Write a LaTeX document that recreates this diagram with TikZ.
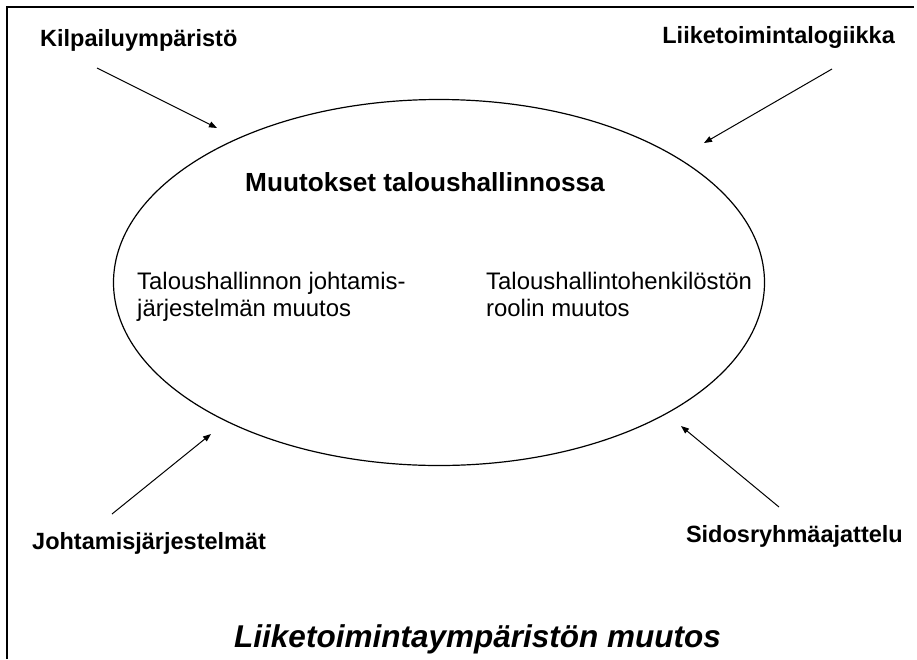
\documentclass[tikz,border=0pt]{standalone}
\usepackage{fontspec}
\setmainfont{Liberation Sans}
\usetikzlibrary{arrows.meta}
\begin{document}
\begin{tikzpicture}[x=1pt,y=-1pt,
  outer/.style={inner sep=0pt, font=\fontsize{23.5pt}{28pt}\selectfont\bfseries},
  inner/.style={inner sep=0pt, align=left, font=\fontsize{23.9pt}{27.5pt}\selectfont},
  conn/.style={line width=1pt, -{Triangle[length=8pt,width=6pt]}}]
\useasboundingbox (0,0) rectangle (917,659);
\draw[line width=1.5pt] (7,659) -- (7,7) -- (914,7);
\draw[line width=1.2pt] (439,282.5) ellipse [x radius=325.5pt, y radius=183pt];
% labels
\node[outer, anchor=base west] (kil) at (40,46) {Kilpailuympäristö};
\node[outer, anchor=base east] (lii) at (895,43) {Liiketoimintalogiikka};
\node[outer, anchor=base west] (joh) at (32,549) {Johtamisjärjestelmät};
\node[outer, anchor=base east] (sid) at (903,542) {Sidosryhmäajattelu};
\node[inner sep=0pt, anchor=base, font=\fontsize{31.5pt}{36pt}\selectfont\bfseries\itshape] (title) at (477.5,647) {Liiketoimintaympäristön muutos};
\node[inner sep=0pt, anchor=base west, font=\fontsize{26.2pt}{31pt}\selectfont\bfseries] (muu) at (245,191) {Muutokset taloushallinnossa};
\node[inner, anchor=north west] (left) at (137,271.5) {Taloushallinnon johtamis-\\järjestelmän muutos};
\node[inner, anchor=north west] (right) at (486,271.5) {Taloushallintohenkilöstön\\roolin muutos};
% arrow ends
\coordinate (a1) at (97,68);   \coordinate (b1) at (217,128);
\coordinate (a2) at (832,69);  \coordinate (b2) at (704,143);
\coordinate (a3) at (112,514); \coordinate (b3) at (211,434);
\coordinate (a4) at (779,507); \coordinate (b4) at (681,426);
\draw[conn] (a1) -- (b1);
\draw[conn] (a2) -- (b2);
\draw[conn] (a3) -- (b3);
\draw[conn] (a4) -- (b4);
\end{tikzpicture}
\end{document}
